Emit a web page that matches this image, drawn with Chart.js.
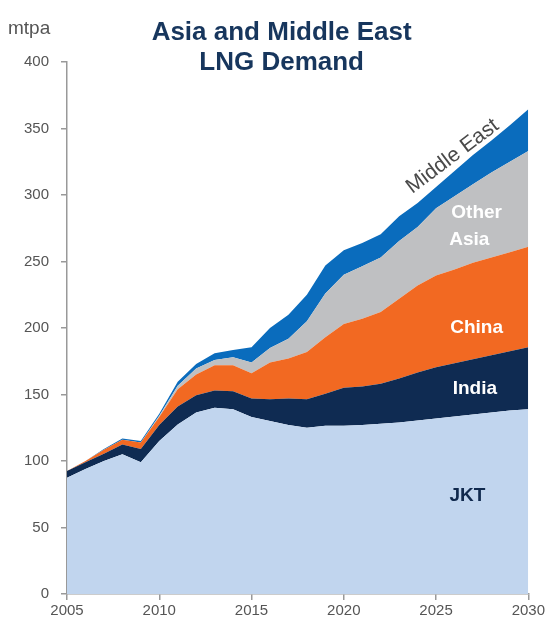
<!DOCTYPE html>
<html>
<head>
<meta charset="utf-8">
<script src="https://cdn.jsdelivr.net/npm/chart.js@4/dist/chart.umd.min.js"></script>
<style>
html,body{margin:0;padding:0;background:#fff;}
#wrap{width:547px;height:624px;position:relative;}
</style>
</head>
<body>
<div id="wrap"><canvas id="c" width="547" height="624"></canvas></div>
<script>
const years = [2005,2006,2007,2008,2009,2010,2011,2012,2013,2014,2015,2016,2017,2018,2019,2020,2021,2022,2023,2024,2025,2026,2027,2028,2029,2030];
const jkt = [87.5,94,100,105,99,115,127.5,136.5,140,139,133,130,127,125,126.5,126.5,127,128,129,130.5,132,133.5,135,136.5,138,139];
const india = [5,5,5.5,7.5,10,12,13.5,13,13,13.5,14,16.5,20,21.5,24,28.5,29,30,33,36,38.5,40,41.5,43,44.5,46.5];
const china = [0,1,3,3.5,5,6,13,15.5,19,19.5,19,27.5,30,35.5,42.5,48,51,54,60,65.5,69,70.5,72.5,73.5,74.5,75.5];
const otherAsia = [0,0,0,0,0,1,2.5,4.5,4,6,8,11,15,23,33,37,39.5,41,43.5,44,50.5,55,59,64,68,72];
const middleEast = [0,0,0.5,1,1,1.5,3,3.5,5,5.5,11.5,15,18,20,21,18.5,17.5,17.5,18.5,18,16,19,22,24,27.5,31.5];
const seriesNames = ['JKT','India','China','Other Asia','Middle East'];
const yTicks = [0,50,100,150,200,250,300,350,400];
const xTicks = [2005,2010,2015,2020,2025,2030];
const titleLines = ['Asia and Middle East','LNG Demand'];
const unitLabel = 'mtpa';

const colors = ['#c1d5ee','#0f2b52','#f26922','#bfc0c2','#0a6cbd'];
const seriesData = [jkt, india, china, otherAsia, middleEast];

const datasets = seriesData.map((arr,i)=>({
  label: seriesNames[i],
  data: arr.map((v,j)=>({x:years[j], y:v})),
  backgroundColor: colors[i],
  borderColor: colors[i],
  borderWidth: 0,
  pointRadius: 0,
  fill: i===0 ? 'origin' : '-1',
  tension: 0
}));

const FONT = '"Liberation Sans", Arial, Helvetica, sans-serif';

const annot = {
  id:'annot',
  afterDraw(chart){
    const ctx = chart.ctx;
    const xs = chart.scales.x, ys = chart.scales.y;
    const ca = chart.chartArea;
    ctx.save();
    // title
    ctx.fillStyle = '#17365d';
    ctx.font = 'bold 26px ' + FONT;
    ctx.textAlign = 'center';
    ctx.textBaseline = 'alphabetic';
    const cx = (ca.left + ca.right)/2 - 16;
    ctx.fillText(titleLines[0], cx, 40);
    ctx.fillText(titleLines[1], cx, 70);
    // unit
    ctx.fillStyle = '#555';
    ctx.font = '19px ' + FONT;
    ctx.textAlign = 'left';
    ctx.fillText(unitLabel, 8, 34);
    // series labels
    ctx.textAlign = 'center';
    ctx.textBaseline = 'middle';
    ctx.font = 'bold 19px ' + FONT;
    ctx.fillStyle = '#ffffff';
    ctx.fillText('Other', xs.getPixelForValue(2027.2), ys.getPixelForValue(287));
    ctx.fillText('Asia', xs.getPixelForValue(2026.8), ys.getPixelForValue(266));
    ctx.fillText('China', xs.getPixelForValue(2027.2), ys.getPixelForValue(200));
    ctx.fillText('India', xs.getPixelForValue(2027.1), ys.getPixelForValue(154));
    ctx.fillStyle = '#10294d';
    ctx.fillText('JKT', xs.getPixelForValue(2026.7), ys.getPixelForValue(74));
    // Middle East rotated
    ctx.save();
    ctx.translate(xs.getPixelForValue(2025.9), ys.getPixelForValue(329));
    ctx.rotate(-37*Math.PI/180);
    ctx.font = '21px ' + FONT;
    ctx.fillStyle = '#4a4a4a';
    ctx.fillText('Middle East', 0, 0);
    ctx.restore();
    ctx.restore();
  }
};

new Chart(document.getElementById('c'), {
  type:'line',
  data:{datasets},
  options:{
    responsive:false,
    animation:false,
    layout:{padding:{top:62,left:4,right:6,bottom:2}},
    plugins:{legend:{display:false}, tooltip:{enabled:false}, title:{display:false}},
    elements:{line:{borderWidth:0}},
    scales:{
      x:{
        type:'linear', min:2005, max:2030,
        afterBuildTicks(s){ s.ticks = xTicks.map(v=>({value:v})); },
        ticks:{color:'#555', font:{family:FONT, size:15}, padding:2, maxRotation:0, callback:v=>String(v)},
        grid:{drawOnChartArea:false, drawTicks:true, tickLength:6, color:'#999', lineWidth:1.5},
        border:{color:'#999', width:1.5}
      },
      y:{
        stacked:true, min:0, max:400,
        afterBuildTicks(s){ s.ticks = yTicks.map(v=>({value:v})); },
        afterFit(s){ s.width = 63; },
        ticks:{color:'#555', font:{family:FONT, size:15}, padding:12},
        grid:{drawOnChartArea:false, drawTicks:true, tickLength:6, color:'#999', lineWidth:1.5},
        border:{color:'#999', width:1.5}
      }
    }
  },
  plugins:[annot]
});
</script>
</body>
</html>
